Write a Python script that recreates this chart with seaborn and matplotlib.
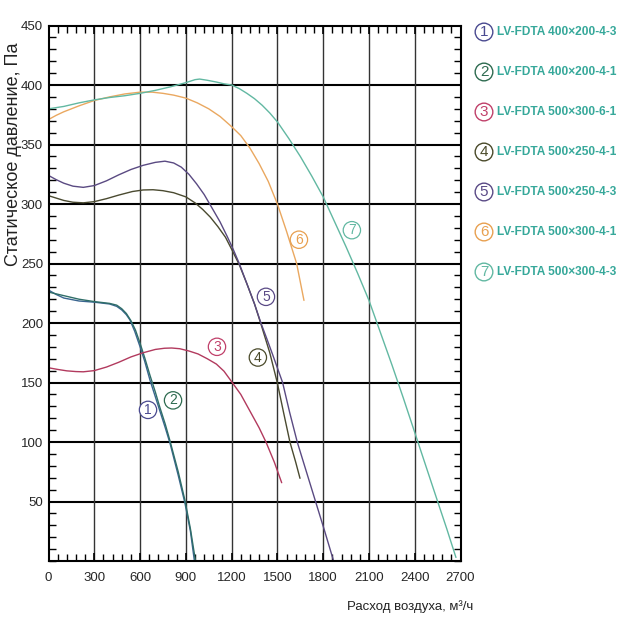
import numpy as np
import pandas as pd
import matplotlib
matplotlib.use('Agg')
import matplotlib.pyplot as plt
from matplotlib.ticker import MultipleLocator
import seaborn as sns

# values (airflow m3/h, static pressure Pa)
x1 = [0, 50, 100, 200, 300, 400, 447, 480, 510, 534, 565, 600, 630, 665, 700, 730, 765, 796, 850, 894, 930, 955]
y1 = [227.7, 224, 221, 218.5, 217.5, 216, 214, 211, 207, 202.5, 193, 180, 168, 152, 138, 126, 112, 99, 72, 48.7, 25, 1]
x2 = [0, 50, 100, 200, 300, 400, 447, 480, 510, 540, 570, 600, 630, 665, 700, 730, 765, 796, 850, 894, 930, 962]
y2 = [226, 224.5, 223, 220, 218, 216.5, 215, 212, 208, 202, 194, 183, 171, 156, 142, 129, 115, 101, 75, 51, 27, 1]
x3 = [0, 60, 120, 180, 228, 300, 380, 460, 540, 620, 700, 760, 807, 860, 920, 980, 1040, 1100, 1150,
      1200, 1260, 1320, 1380, 1425, 1480, 1528]
y3 = [162.4, 161, 159.8, 159.2, 159, 160, 163, 167, 171.5, 175, 177.8, 178.8, 179, 178.4, 176.5, 174, 170,
      165.5, 159.5, 150.7, 140, 126, 112, 100, 83, 65.8]
x4 = [0, 50, 100, 160, 228, 300, 380, 460, 550, 620, 685, 750, 820, 900, 960, 1010, 1060, 1110, 1160,
      1200, 1250, 1300, 1350, 1390, 1450, 1499, 1540, 1582, 1620, 1648]
y4 = [307, 305, 303, 301.5, 301, 302, 304.5, 307.5, 310.5, 311.8, 312, 311.2, 309.5, 306, 301, 295.5, 289,
      281, 272, 262, 249, 233, 216, 200, 175, 150, 125, 100, 83, 69.5]
x5 = [0, 50, 100, 160, 228, 300, 380, 460, 540, 620, 700, 763, 820, 870, 920, 970, 1020, 1070, 1124,
      1170, 1210, 1250, 1300, 1350, 1392, 1430, 1470, 1534, 1580, 1630, 1690, 1750, 1810, 1866]
y5 = [324, 320.5, 317.5, 315, 314, 315.5, 319.5, 324.5, 329, 332.5, 335, 336, 334.5, 331, 325, 317, 308,
      297, 285, 273, 262, 250, 233, 216, 200, 187, 173, 150, 125, 100, 75, 50, 25, 1]
x6 = [0, 50, 100, 150, 200, 300, 400, 500, 600, 680, 750, 820, 900, 975, 1050, 1125, 1200, 1260, 1320,
      1380, 1440, 1500, 1560, 1626, 1674]
y6 = [371, 374.5, 377.5, 380, 382.5, 387, 390, 392.5, 394, 394, 393, 391.5, 389, 385, 380, 373.5, 365,
      357.5, 347, 334, 319, 300, 277, 250, 219]
x7 = [0, 100, 200, 300, 400, 500, 600, 700, 800, 900, 960, 990, 1040, 1100, 1150, 1200, 1250, 1300, 1350,
      1400, 1450, 1500, 1575, 1650, 1725, 1800, 1875, 1950, 2025, 2100, 2175, 2250, 2325, 2400, 2475,
      2550, 2610, 2670]
y7 = [380, 382, 385, 387.5, 389.5, 391, 393, 395.5, 398.5, 402, 404.5, 405, 404, 402.5, 401, 400, 397, 393,
      388.5, 383, 376.5, 369, 355, 340, 323.5, 306, 285, 264, 242, 219, 192, 165, 137, 108, 79, 50, 27, 3]

models = ['LV-FDTA 400×200-4-3', 'LV-FDTA 400×200-4-1', 'LV-FDTA 500×300-6-1',
          'LV-FDTA 500×250-4-1', 'LV-FDTA 500×250-4-3', 'LV-FDTA 500×300-4-1',
          'LV-FDTA 500×300-4-3']
line_colors = ['#3a6590', '#2f6e68', '#b23a5e', '#4a4a30', '#5a4a82', '#eaa860', '#62b8a2']
circle_colors = ['#4a4a90', '#2e6b50', '#c0406a', '#4a4a2a', '#5a4a86', '#e8a050', '#62b8a2']
label_x = [652, 816, 1104, 1372, 1425, 1641, 1988]
label_y = [127, 135, 180, 171, 222, 270, 278]

xs = [x1, x2, x3, x4, x5, x6, x7]
ys = [y1, y2, y3, y4, y5, y6, y7]
frames = []
for i, (xv, yv) in enumerate(zip(xs, ys)):
    frames.append(pd.DataFrame({'flow': xv, 'pressure': yv, 'curve': str(i + 1)}))
df = pd.concat(frames, ignore_index=True)

sns.set_style('white')
plt.rcParams['font.family'] = ['Liberation Sans', 'DejaVu Sans']

fig = plt.figure(figsize=(6.3, 6.3), dpi=100)
ax = fig.add_axes([0.077, 0.1095, 0.654, 0.85])

sns.lineplot(data=df, x='flow', y='pressure', hue='curve', palette=line_colors,
             estimator=None, legend=False, linewidth=1.0, ax=ax)

ax.set_xlim(0, 2700)
ax.set_ylim(0, 450)
ax.set_xticks(range(0, 2701, 300))
ax.set_yticks(range(50, 451, 50))
ax.xaxis.set_minor_locator(MultipleLocator(60))
ax.yaxis.set_minor_locator(MultipleLocator(10))
for yv in range(50, 401, 50):
    ax.axhline(yv, color='black', lw=1.5, zorder=0)
for xv in range(300, 2401, 300):
    ax.axvline(xv, color='#333333', lw=1.0, zorder=0)
for s in ax.spines.values():
    s.set_color('black')
    s.set_linewidth(1.5)
ax.tick_params(which='both', direction='in', top=True, right=True, color='black')
ax.tick_params(which='major', length=6, width=1.2, labelsize=9.5, pad=4)
ax.tick_params(which='minor', length=5, width=1.0)
ax.tick_params(axis='x', which='both', bottom=True, pad=8)
ax.tick_params(axis='y', which='both', left=True)
ax.set_xlabel('')
ax.set_ylabel('')

fig.text(0.022, 0.755, 'Статическое давление, Па', rotation=90, ha='center', va='center',
         fontsize=13, color='#222222')
fig.text(473 / 630, 1 - 607 / 630, 'Расход воздуха, м³/ч', ha='right', va='center',
         fontsize=9.5, color='#222222')

# circled curve numbers on the plot
for i in range(7):
    ax.text(label_x[i], label_y[i], str(i + 1), ha='center', va='center', fontsize=10,
            color=circle_colors[i],
            bbox=dict(boxstyle='circle,pad=0.12', fc='white', ec=circle_colors[i], lw=0.9))

# legend on the right
for i in range(7):
    yy = 1 - (32 + 40 * i) / 630
    fig.text(484 / 630, yy, str(i + 1), ha='center', va='center', fontsize=11,
             color=circle_colors[i],
             bbox=dict(boxstyle='circle,pad=0.12', fc='white', ec=circle_colors[i], lw=1.0))
    fig.text(497 / 630, yy, models[i], ha='left', va='center', fontsize=8.6,
             fontweight='bold', color='#36a89a')

fig.savefig('out.png', dpi=100)
